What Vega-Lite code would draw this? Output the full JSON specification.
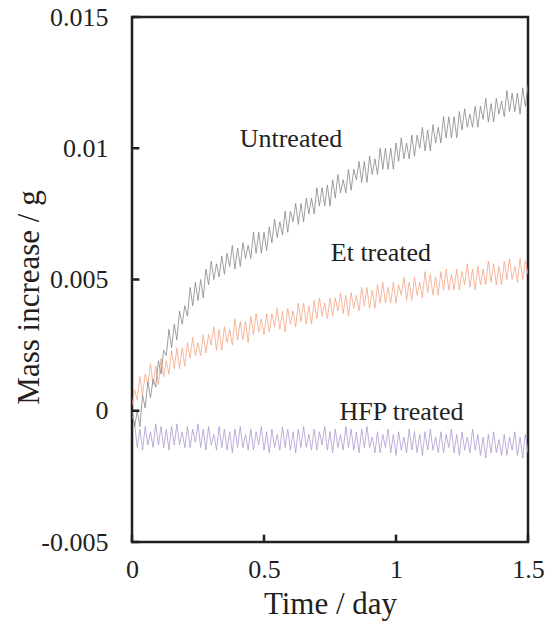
{
"$schema": "https://vega.github.io/schema/vega-lite/v6.json",
"width": 396, "height": 525,
"autosize": "none",
"padding": {"left": 132, "top": 17, "right": 22, "bottom": 88},
"config": {"view": {"stroke": "#231f20", "strokeWidth": 2.5}, "font": "Liberation Serif"},
"datasets": {
"series": [
{"t":0,"u":0,"e":0.0002,"h":-0.0002},
{"t":0.01,"u":-0.0006,"e":0.0008,"h":-0.0005},
{"t":0.02,"u":0,"e":0.0004,"h":-0.0014},
{"t":0.03,"u":-0.0006,"e":0.0013,"h":-0.0007},
{"t":0.04,"u":0.0006,"e":0.0006,"h":-0.0015},
{"t":0.05,"u":0.0001,"e":0.0014,"h":-0.0006},
{"t":0.06,"u":0.0011,"e":0.001,"h":-0.0013},
{"t":0.07,"u":0.0005,"e":0.0018,"h":-0.0008},
{"t":0.08,"u":0.0012,"e":0.001,"h":-0.0014},
{"t":0.09,"u":0.0009,"e":0.0017,"h":-0.0005},
{"t":0.1,"u":0.0019,"e":0.001,"h":-0.0013},
{"t":0.11,"u":0.0014,"e":0.002,"h":-0.0006},
{"t":0.12,"u":0.0023,"e":0.0013,"h":-0.0014},
{"t":0.13,"u":0.0021,"e":0.0019,"h":-0.0007},
{"t":0.14,"u":0.0031,"e":0.0014,"h":-0.0015},
{"t":0.15,"u":0.0024,"e":0.0023,"h":-0.0006},
{"t":0.16,"u":0.0033,"e":0.0016,"h":-0.0013},
{"t":0.17,"u":0.0027,"e":0.0024,"h":-0.0005},
{"t":0.18,"u":0.0038,"e":0.0016,"h":-0.0013},
{"t":0.19,"u":0.0033,"e":0.0024,"h":-0.0008},
{"t":0.2,"u":0.004,"e":0.0017,"h":-0.0014},
{"t":0.21,"u":0.0036,"e":0.0026,"h":-0.0006},
{"t":0.22,"u":0.0047,"e":0.002,"h":-0.0014},
{"t":0.23,"u":0.004,"e":0.0028,"h":-0.0007},
{"t":0.24,"u":0.0049,"e":0.0021,"h":-0.0012},
{"t":0.25,"u":0.0042,"e":0.0026,"h":-0.0005},
{"t":0.26,"u":0.005,"e":0.0021,"h":-0.0014},
{"t":0.27,"u":0.0043,"e":0.0029,"h":-0.0007},
{"t":0.28,"u":0.0054,"e":0.0022,"h":-0.0015},
{"t":0.29,"u":0.0048,"e":0.0029,"h":-0.0006},
{"t":0.3,"u":0.0057,"e":0.0025,"h":-0.0013},
{"t":0.31,"u":0.005,"e":0.0032,"h":-0.0009},
{"t":0.32,"u":0.0056,"e":0.0023,"h":-0.0015},
{"t":0.33,"u":0.0051,"e":0.0031,"h":-0.0006},
{"t":0.34,"u":0.0059,"e":0.0023,"h":-0.0014},
{"t":0.35,"u":0.0052,"e":0.0032,"h":-0.0007},
{"t":0.36,"u":0.006,"e":0.0026,"h":-0.0015},
{"t":0.37,"u":0.0055,"e":0.0031,"h":-0.0008},
{"t":0.38,"u":0.0063,"e":0.0025,"h":-0.0016},
{"t":0.39,"u":0.0054,"e":0.0035,"h":-0.0007},
{"t":0.4,"u":0.0062,"e":0.0027,"h":-0.0014},
{"t":0.41,"u":0.0055,"e":0.0034,"h":-0.0006},
{"t":0.42,"u":0.0064,"e":0.0027,"h":-0.0014},
{"t":0.43,"u":0.0058,"e":0.0034,"h":-0.0009},
{"t":0.44,"u":0.0063,"e":0.0026,"h":-0.0015},
{"t":0.45,"u":0.0058,"e":0.0036,"h":-0.0007},
{"t":0.46,"u":0.0068,"e":0.0029,"h":-0.0015},
{"t":0.47,"u":0.006,"e":0.0037,"h":-0.0008},
{"t":0.48,"u":0.0068,"e":0.003,"h":-0.0013},
{"t":0.49,"u":0.006,"e":0.0035,"h":-0.0006},
{"t":0.5,"u":0.0068,"e":0.0029,"h":-0.0015},
{"t":0.51,"u":0.0061,"e":0.0037,"h":-0.0008},
{"t":0.52,"u":0.007,"e":0.003,"h":-0.0016},
{"t":0.53,"u":0.0064,"e":0.0037,"h":-0.0007},
{"t":0.54,"u":0.0073,"e":0.0032,"h":-0.0014},
{"t":0.55,"u":0.0066,"e":0.0039,"h":-0.0009},
{"t":0.56,"u":0.0072,"e":0.0031,"h":-0.0015},
{"t":0.57,"u":0.0067,"e":0.0038,"h":-0.0006},
{"t":0.58,"u":0.0076,"e":0.003,"h":-0.0014},
{"t":0.59,"u":0.0068,"e":0.0039,"h":-0.0007},
{"t":0.6,"u":0.0076,"e":0.0033,"h":-0.0015},
{"t":0.61,"u":0.0072,"e":0.0038,"h":-0.0008},
{"t":0.62,"u":0.0079,"e":0.0032,"h":-0.0016},
{"t":0.63,"u":0.0071,"e":0.0041,"h":-0.0007},
{"t":0.64,"u":0.0079,"e":0.0034,"h":-0.0014},
{"t":0.65,"u":0.0072,"e":0.0041,"h":-0.0006},
{"t":0.66,"u":0.0081,"e":0.0033,"h":-0.0014},
{"t":0.67,"u":0.0075,"e":0.004,"h":-0.0009},
{"t":0.68,"u":0.0081,"e":0.0033,"h":-0.0015},
{"t":0.69,"u":0.0075,"e":0.0042,"h":-0.0007},
{"t":0.7,"u":0.0085,"e":0.0035,"h":-0.0015},
{"t":0.71,"u":0.0078,"e":0.0043,"h":-0.0008},
{"t":0.72,"u":0.0085,"e":0.0036,"h":-0.0013},
{"t":0.73,"u":0.0078,"e":0.0041,"h":-0.0006},
{"t":0.74,"u":0.0086,"e":0.0035,"h":-0.0015},
{"t":0.75,"u":0.0078,"e":0.0043,"h":-0.0008},
{"t":0.76,"u":0.0088,"e":0.0036,"h":-0.0016},
{"t":0.77,"u":0.0081,"e":0.0043,"h":-0.0007},
{"t":0.78,"u":0.009,"e":0.0038,"h":-0.0014},
{"t":0.79,"u":0.0083,"e":0.0045,"h":-0.0009},
{"t":0.8,"u":0.0088,"e":0.0037,"h":-0.0015},
{"t":0.81,"u":0.0083,"e":0.0044,"h":-0.0006},
{"t":0.82,"u":0.0092,"e":0.0036,"h":-0.0014},
{"t":0.83,"u":0.0084,"e":0.0045,"h":-0.0007},
{"t":0.84,"u":0.0092,"e":0.0039,"h":-0.0015},
{"t":0.85,"u":0.0088,"e":0.0044,"h":-0.0008},
{"t":0.86,"u":0.0095,"e":0.0038,"h":-0.0016},
{"t":0.87,"u":0.0087,"e":0.0047,"h":-0.0007},
{"t":0.88,"u":0.0095,"e":0.004,"h":-0.0014},
{"t":0.89,"u":0.0087,"e":0.0047,"h":-0.0006},
{"t":0.9,"u":0.0097,"e":0.0039,"h":-0.0014},
{"t":0.91,"u":0.009,"e":0.0046,"h":-0.001},
{"t":0.92,"u":0.0096,"e":0.0039,"h":-0.0016},
{"t":0.93,"u":0.009,"e":0.0048,"h":-0.0008},
{"t":0.94,"u":0.01,"e":0.0041,"h":-0.0016},
{"t":0.95,"u":0.0092,"e":0.0049,"h":-0.0009},
{"t":0.96,"u":0.01,"e":0.0041,"h":-0.0014},
{"t":0.97,"u":0.0092,"e":0.0047,"h":-0.0007},
{"t":0.98,"u":0.01,"e":0.0041,"h":-0.0016},
{"t":0.99,"u":0.0092,"e":0.0049,"h":-0.0009},
{"t":1,"u":0.0102,"e":0.0041,"h":-0.0017},
{"t":1.01,"u":0.0095,"e":0.0048,"h":-0.0008},
{"t":1.02,"u":0.0104,"e":0.0044,"h":-0.0015},
{"t":1.03,"u":0.0096,"e":0.0051,"h":-0.001},
{"t":1.04,"u":0.0102,"e":0.0042,"h":-0.0016},
{"t":1.05,"u":0.0096,"e":0.0049,"h":-0.0007},
{"t":1.06,"u":0.0105,"e":0.0042,"h":-0.0015},
{"t":1.07,"u":0.0097,"e":0.0051,"h":-0.0008},
{"t":1.08,"u":0.0105,"e":0.0044,"h":-0.0016},
{"t":1.09,"u":0.01,"e":0.0049,"h":-0.0009},
{"t":1.1,"u":0.0108,"e":0.0043,"h":-0.0017},
{"t":1.11,"u":0.0099,"e":0.0053,"h":-0.0008},
{"t":1.12,"u":0.0107,"e":0.0045,"h":-0.0015},
{"t":1.13,"u":0.0099,"e":0.0052,"h":-0.0007},
{"t":1.14,"u":0.0109,"e":0.0044,"h":-0.0015},
{"t":1.15,"u":0.0102,"e":0.0051,"h":-0.001},
{"t":1.16,"u":0.0108,"e":0.0044,"h":-0.0016},
{"t":1.17,"u":0.0102,"e":0.0053,"h":-0.0008},
{"t":1.18,"u":0.0112,"e":0.0046,"h":-0.0016},
{"t":1.19,"u":0.0104,"e":0.0054,"h":-0.0009},
{"t":1.2,"u":0.0112,"e":0.0046,"h":-0.0014},
{"t":1.21,"u":0.0104,"e":0.0052,"h":-0.0007},
{"t":1.22,"u":0.0112,"e":0.0046,"h":-0.0016},
{"t":1.23,"u":0.0104,"e":0.0054,"h":-0.0009},
{"t":1.24,"u":0.0114,"e":0.0046,"h":-0.0017},
{"t":1.25,"u":0.0107,"e":0.0053,"h":-0.0008},
{"t":1.26,"u":0.0115,"e":0.0048,"h":-0.0015},
{"t":1.27,"u":0.0108,"e":0.0056,"h":-0.001},
{"t":1.28,"u":0.0113,"e":0.0047,"h":-0.0016},
{"t":1.29,"u":0.0108,"e":0.0054,"h":-0.0007},
{"t":1.3,"u":0.0116,"e":0.0046,"h":-0.0015},
{"t":1.31,"u":0.0108,"e":0.0055,"h":-0.0009},
{"t":1.32,"u":0.0116,"e":0.0048,"h":-0.0017},
{"t":1.33,"u":0.0111,"e":0.0054,"h":-0.001},
{"t":1.34,"u":0.0119,"e":0.0048,"h":-0.0018},
{"t":1.35,"u":0.011,"e":0.0057,"h":-0.0009},
{"t":1.36,"u":0.0117,"e":0.0049,"h":-0.0016},
{"t":1.37,"u":0.011,"e":0.0056,"h":-0.0008},
{"t":1.38,"u":0.0119,"e":0.0048,"h":-0.0016},
{"t":1.39,"u":0.0113,"e":0.0055,"h":-0.0011},
{"t":1.4,"u":0.0118,"e":0.0048,"h":-0.0017},
{"t":1.41,"u":0.0112,"e":0.0057,"h":-0.0009},
{"t":1.42,"u":0.0122,"e":0.005,"h":-0.0017},
{"t":1.43,"u":0.0114,"e":0.0058,"h":-0.001},
{"t":1.44,"u":0.0121,"e":0.005,"h":-0.0015},
{"t":1.45,"u":0.0114,"e":0.0055,"h":-0.0008},
{"t":1.46,"u":0.0121,"e":0.0049,"h":-0.0017},
{"t":1.47,"u":0.0113,"e":0.0058,"h":-0.001},
{"t":1.48,"u":0.0123,"e":0.005,"h":-0.0018},
{"t":1.49,"u":0.0116,"e":0.0057,"h":-0.0009},
{"t":1.5,"u":0.0124,"e":0.0052,"h":-0.0016}
],
"labels": [
{"t":0.602,"m":0.01006,"label":"Untreated"},
{"t":0.943,"m":0.00571,"label":"Et treated"},
{"t":1.021,"m":-0.00036,"label":"HFP treated"}
],
"yticks": [{"v":-0.005},{"v":0},{"v":0.005},{"v":0.01},{"v":0.015}],
"xticks": [{"v":0},{"v":0.5},{"v":1},{"v":1.5}]
},
"encoding": {
"x": {"type": "quantitative", "scale": {"domain": [0, 1.5], "nice": false, "zero": false}},
"y": {"type": "quantitative", "scale": {"domain": [-0.005, 0.015], "nice": false, "zero": false}}
},
"layer": [
{
"data": {"name": "series"},
"mark": {"type": "line", "color": "#a996cc", "strokeWidth": 0.75, "clip": true},
"encoding": {
"x": {"field": "t", "type": "quantitative",
"axis": {"title": "Time / day", "values": [0, 0.5, 1, 1.5], "labelExpr": "'' + datum.value", "labelFlush": false,
"domain": false, "grid": false, "ticks": false,
"labelFont": "Liberation Serif", "labelFontSize": 26, "labelColor": "#231f20", "labelPadding": 14,
"titleFont": "Liberation Serif", "titleFontSize": 31, "titleFontWeight": "normal", "titleColor": "#231f20", "titlePadding": 7}},
"y": {"field": "h", "type": "quantitative",
"axis": {"title": "Mass increase / g", "values": [-0.005, 0, 0.005, 0.01, 0.015], "labelExpr": "'' + datum.value", "labelFlush": false,
"domain": false, "grid": false, "ticks": false,
"labelFont": "Liberation Serif", "labelFontSize": 26, "labelColor": "#231f20", "labelPadding": 24,
"titleFont": "Liberation Serif", "titleFontSize": 31, "titleFontWeight": "normal", "titleColor": "#231f20", "titleAngle": -90, "titleBaseline": "bottom", "titleX": -87, "titleY": 280}}
}
},
{
"data": {"name": "series"},
"mark": {"type": "line", "color": "#f4a07e", "strokeWidth": 0.75, "clip": true},
"encoding": {"x": {"field": "t", "type": "quantitative"}, "y": {"field": "e", "type": "quantitative"}}
},
{
"data": {"name": "series"},
"mark": {"type": "line", "color": "#808080", "strokeWidth": 0.75, "clip": true},
"encoding": {"x": {"field": "t", "type": "quantitative"}, "y": {"field": "u", "type": "quantitative"}}
},
{
"data": {"name": "yticks"},
"mark": {"type": "rule", "color": "#231f20", "strokeWidth": 2.5},
"encoding": {"x": {"datum": 0, "type": "quantitative"}, "x2": {"datum": 0.028}, "y": {"field": "v", "type": "quantitative"}}
},
{
"data": {"name": "xticks"},
"mark": {"type": "rule", "color": "#231f20", "strokeWidth": 2.5},
"encoding": {"x": {"field": "v", "type": "quantitative"}, "y": {"datum": -0.005, "type": "quantitative"}, "y2": {"datum": -0.00472}}
},
{
"data": {"name": "labels"},
"mark": {"type": "text", "font": "Liberation Serif", "fontSize": 26, "color": "#231f20", "align": "center", "baseline": "alphabetic"},
"encoding": {"x": {"field": "t", "type": "quantitative"}, "y": {"field": "m", "type": "quantitative"}, "text": {"field": "label"}}
}
]
}
